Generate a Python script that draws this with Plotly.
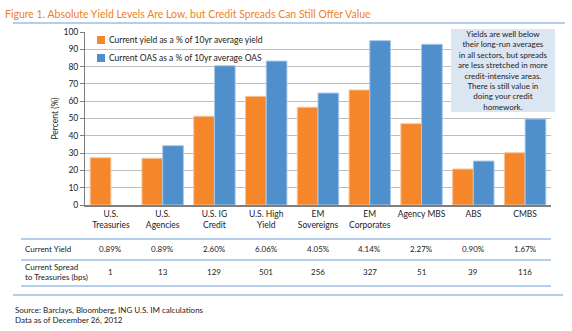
import plotly.graph_objects as go

categories = ["U.S.<br>Treasuries", "U.S.<br>Agencies", "U.S. IG<br>Credit", "U.S. High<br>Yield",
              "EM<br>Sovereigns", "EM<br>Corporates", "Agency MBS", "ABS", "CMBS"]
yield_pct = [27.3, 27.0, 51.3, 62.8, 56.5, 66.5, 47.0, 20.8, 30.2]
oas_pct = [None, 34.3, 80.5, 83.2, 64.7, 95.0, 92.9, 25.4, 49.7]
series_names = ["Current yield as a % of 10yr average yield", "Current OAS as a % of 10yr average OAS"]
current_yield = ["0.89%", "0.89%", "2.60%", "6.06%", "4.05%", "4.14%", "2.27%", "0.90%", "1.67%"]
current_spread = ["1", "13", "129", "501", "256", "327", "51", "39", "116"]
y_ticks = [0, 10, 20, 30, 40, 50, 60, 70, 80, 90, 100]

FONT = "Lato"
ORANGE = "#F5872A"
BLUE = "#4F8FCC"
RULE = "#9DBFE3"
TXT = "#222222"

L, R, T, B = 85, 551, 32, 205
W, H = R - L, B - T

def px(xp):
    return (xp - L) / W

def py(yp):
    return (B - yp) / H

fig = go.Figure()
fig.add_trace(go.Bar(x=categories, y=yield_pct, name=series_names[0],
                     marker=dict(color=ORANGE, line=dict(color="#F9C39A", width=1))))
fig.add_trace(go.Bar(x=categories, y=oas_pct, name=series_names[1],
                     marker=dict(color=BLUE, line=dict(color="#A9C8E8", width=1))))

shapes = []
shapes.append(dict(type="line", xref="paper", yref="paper", x0=px(13), x1=px(565), y0=py(23), y1=py(23),
                   line=dict(color=RULE, width=1.5)))
for yy in [239, 260, 286]:
    shapes.append(dict(type="line", xref="paper", yref="paper", x0=px(21), x1=px(551), y0=py(yy), y1=py(yy),
                       line=dict(color=RULE, width=1.5)))
shapes.append(dict(type="line", xref="paper", yref="paper", x0=px(13), x1=px(563), y0=py(295), y1=py(295),
                   line=dict(color=RULE, width=1.5)))
shapes.append(dict(type="rect", xref="paper", yref="paper", x0=px(451), x1=px(555), y0=py(112), y1=py(29),
                   fillcolor="#DCE6F2", line=dict(width=0), layer="above"))
# legend swatches
for yc, col in [(40, ORANGE), (58, BLUE)]:
    shapes.append(dict(type="rect", xref="paper", yref="paper", x0=px(97), x1=px(105), y0=py(yc + 4), y1=py(yc - 4),
                       fillcolor=col, line=dict(width=0), layer="above"))

annotations = []
for yc, name in [(40, series_names[0]), (58, series_names[1])]:
    annotations.append(dict(text=name, xref="paper", yref="paper", x=px(107), y=py(yc), xanchor="left",
                            yanchor="middle", showarrow=False, font=dict(family=FONT, size=8.5, color=TXT)))
annotations.append(dict(text="Figure 1. Absolute Yield Levels Are Low, but Credit Spreads Can Still Offer Value",
                        xref="paper", yref="paper", x=px(3), y=py(14), xanchor="left", yanchor="middle",
                        showarrow=False, font=dict(family=FONT, size=10.5, color="#F07F1E")))
annotations.append(dict(text="Yields are well below<br>their long-run averages<br>in all sectors, but spreads<br>"
                             "are less stretched in more<br>credit-intensive areas.<br>There is still value in<br>"
                             "doing your credit<br>homework.",
                        xref="paper", yref="paper", x=px(503), y=py(70), xanchor="center", yanchor="middle",
                        showarrow=False, align="center", font=dict(family=FONT, size=8, color=TXT)))
annotations.append(dict(text="Current Yield", xref="paper", yref="paper", x=px(23), y=py(249),
                        xanchor="left", yanchor="middle", showarrow=False, font=dict(family=FONT, size=8, color=TXT)))
annotations.append(dict(text="Current Spread<br>to Treasuries (bps)", xref="paper", yref="paper", x=px(23), y=py(272),
                        xanchor="left", yanchor="middle", showarrow=False, align="left",
                        font=dict(family=FONT, size=8, color=TXT)))
for c, v1, v2 in zip(categories, current_yield, current_spread):
    annotations.append(dict(text=v1, xref="x", yref="paper", x=c, y=py(249), xanchor="center", yanchor="middle",
                            showarrow=False, font=dict(family=FONT, size=8, color=TXT)))
    annotations.append(dict(text=v2, xref="x", yref="paper", x=c, y=py(272), xanchor="center", yanchor="middle",
                            showarrow=False, font=dict(family=FONT, size=8, color=TXT)))
annotations.append(dict(text="Source: Barclays, Bloomberg, ING U.S. IM calculations<br>Data as of December 26, 2012",
                        xref="paper", yref="paper", x=px(13), y=py(315), xanchor="left", yanchor="middle",
                        showarrow=False, align="left", font=dict(family=FONT, size=8, color=TXT)))

fig.update_layout(
    width=572, height=331,
    margin=dict(l=L, r=572 - R, t=T, b=331 - B),
    paper_bgcolor="white", plot_bgcolor="white",
    barmode="group", bargap=0.2, bargroupgap=0,
    font=dict(family=FONT, size=8, color=TXT),
    showlegend=False,
    shapes=shapes, annotations=annotations,
)
fig.update_yaxes(range=[0, 100], tickvals=y_ticks, showgrid=True, gridcolor="#BDBDBD", gridwidth=1,
                 showline=True, linecolor="#7F7F7F", ticks="outside", ticklen=4, tickcolor="#7F7F7F",
                 title=dict(text="Percent (%)", font=dict(family=FONT, size=8.5), standoff=3),
                 tickfont=dict(family=FONT, size=8.5), zeroline=False)
fig.update_xaxes(showline=True, linecolor="#7F7F7F", linewidth=1.5, ticks="", tickfont=dict(family=FONT, size=8.5))

fig.write_html("out.html")
